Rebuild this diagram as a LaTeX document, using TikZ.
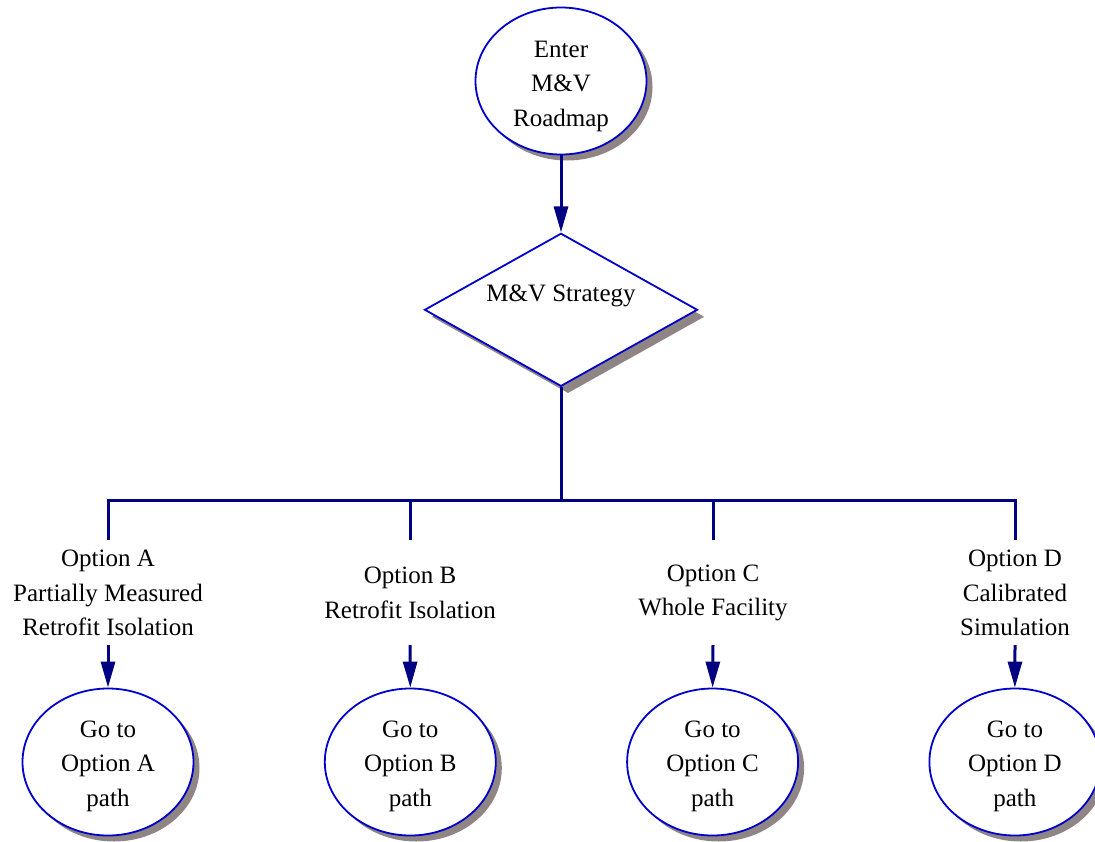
\documentclass[tikz,border=0pt]{standalone}
\usepackage{fontspec}
\setmainfont{Liberation Serif}
\usetikzlibrary{shapes.geometric, arrows.meta, shadows, positioning}
\definecolor{flownavy}{rgb}{0, 0, 0.5}
\definecolor{edgeblue}{rgb}{0, 0, 0.8}
\definecolor{shadegray}{rgb}{0.56, 0.52, 0.52}

\tikzset{
  terminal/.style={ellipse, draw=edgeblue, line width=1.8pt, fill=white, minimum width=171pt, minimum height=147pt, inner sep=0pt,
    drop shadow={shadow xshift=6pt, shadow yshift=-6pt, fill=shadegray, opacity=1}},
  termtext/.style={align=center, inner sep=0pt},
  decision/.style={diamond, draw=edgeblue, line width=1.8pt, fill=white, minimum width=273pt, minimum height=153pt, inner sep=0pt,
    drop shadow={shadow xshift=7pt, shadow yshift=-7pt, fill=shadegray, opacity=1}},
  optlabel/.style={align=center, inner sep=0pt},
  wire/.style={draw=flownavy, line width=3pt},
  flow/.style={wire, -{Triangle[length=26pt, width=14pt]}}
}

\begin{document}
\begin{tikzpicture}[x=1pt, y=1pt, font=\fontsize{25}{34.5}\selectfont]
        \useasboundingbox (0,0) rectangle (1095,-841);

        \node [terminal] (enter) at (561,-81) {};
        \node [termtext] (entertxt) at ([yshift=-5pt]enter.center) { Enter\\M\&V\\Roadmap };
        \node [decision, below=77pt of enter] (strategy) {};
        \node [inner sep=0pt] (strategytxt) at ([yshift=14pt]strategy.center) { M\&V Strategy };
        \draw [flow] (enter) -- (strategy);

        \node [terminal] (goA) at (108,-762) {};
        \node [terminal, on grid, right=302.3pt of goA] (goB) {};
        \node [terminal, on grid, right=302.3pt of goB] (goC) {};
        \node [terminal, on grid, right=302.3pt of goC] (goD) {};
        \node [termtext] (goAtxt) at ([yshift=-4pt]goA.center) { Go to\\Option A\\path };
        \node [termtext] (goBtxt) at ([yshift=-4pt]goB.center) { Go to\\Option B\\path };
        \node [termtext] (goCtxt) at ([yshift=-4pt]goC.center) { Go to\\Option C\\path };
        \node [termtext] (goDtxt) at ([yshift=-4pt]goD.center) { Go to\\Option D\\path };

        \node [optlabel] (optA) at (108,-593) { Option A\\Partially Measured\\Retrofit Isolation };
        \node [optlabel] (optB) at (410,-593) { Option B\\Retrofit Isolation };
        \node [optlabel] (optC) at (713,-593) { Option C\\Whole Facility };
        \node [optlabel] (optD) at (1015,-593) { Option D\\Calibrated\\Simulation };

        % bus from the decision down to the four options
        \coordinate (bus) at (561,-500);
        \coordinate (busA) at (108,-500); \coordinate (tapA) at (108,-540);
        \coordinate (busB) at (410,-500); \coordinate (tapB) at (410,-540);
        \coordinate (busC) at (713,-500); \coordinate (tapC) at (713,-540);
        \coordinate (busD) at (1015,-500); \coordinate (tapD) at (1015,-540);
        \draw [wire] (strategy.south) -- (bus);
        \draw [wire] (tapA) -- (busA) -- (busD) -- (tapD);
        \draw [wire] (busB) -- (tapB);
        \draw [wire] (busC) -- (tapC);

        \coordinate (inA) at (108,-645);
        \coordinate (inB) at (410,-645);
        \coordinate (inC) at (713,-645);
        \coordinate (inD) at (1015,-645);
        \draw [flow] (inA) -- (goA.north);
        \draw [flow] (inB) -- (goB.north);
        \draw [flow] (inC) -- (goC.north);
        \draw [flow] (inD) -- (goD.north);
\end{tikzpicture}
\end{document}
